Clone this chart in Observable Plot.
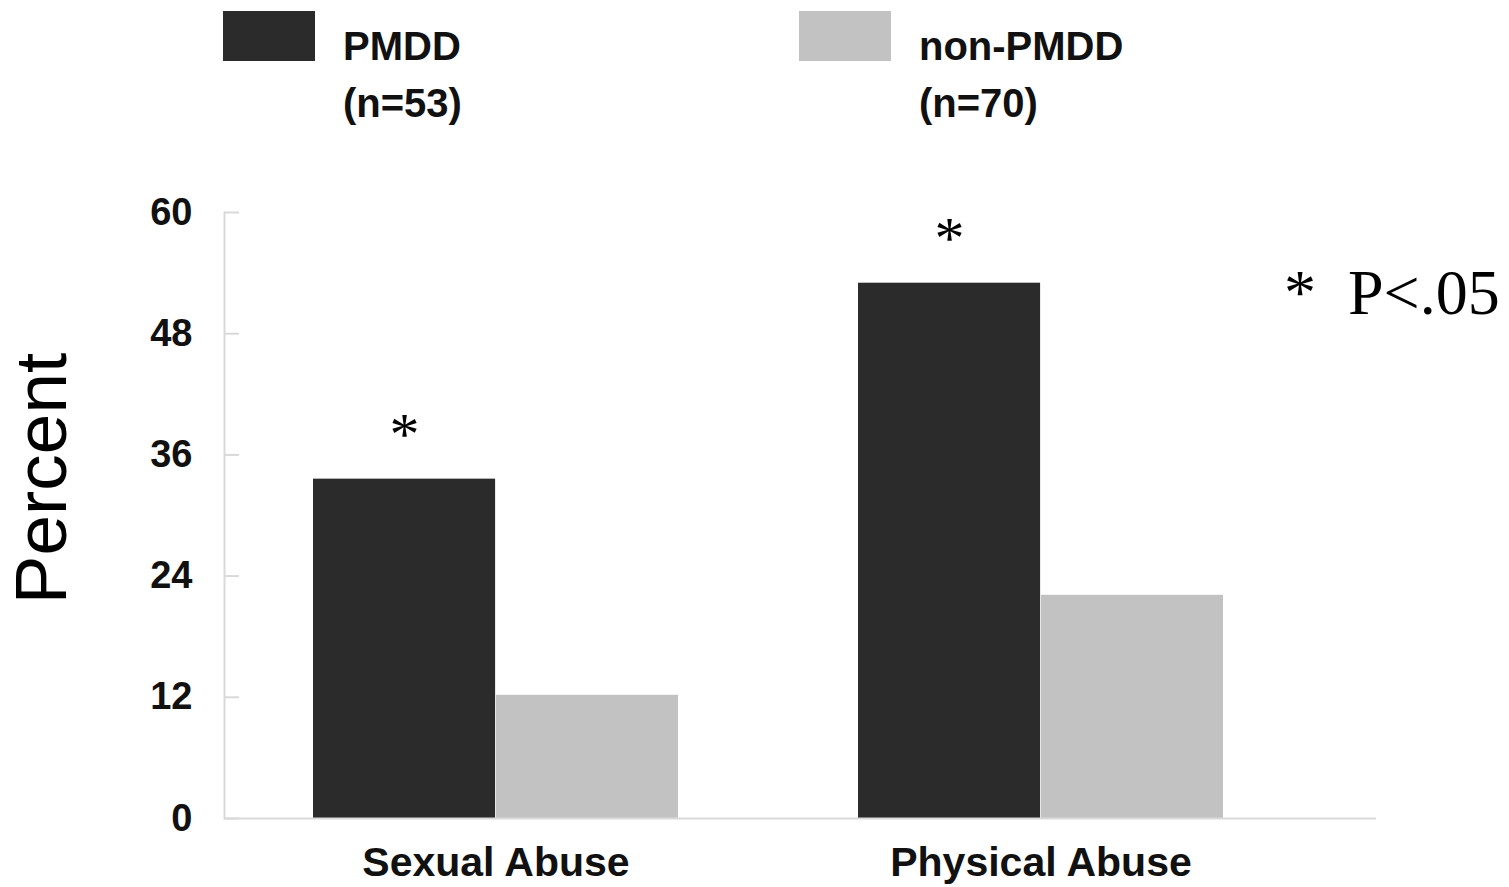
<!DOCTYPE html>
<html>
<head>
<meta charset="utf-8">
<script src="https://cdn.jsdelivr.net/npm/d3@7"></script>
<script src="https://cdn.jsdelivr.net/npm/@observablehq/plot@0.6"></script>
<style>
  html, body { margin: 0; padding: 0; background: #fff; }
  #wrap { position: relative; width: 1509px; height: 887px; overflow: hidden; font-family: "Liberation Sans", Arial, sans-serif; }
  #legend { position: relative; width: 1509px; height: 140px; }
  .sw { position: absolute; top: 11px; width: 92px; height: 50px; }
  .lt { position: absolute; font-size: 40px; font-weight: bold; line-height: 1; color: #111; white-space: nowrap; }
  #note { position: absolute; left: 1284px; top: 261px; font-family: "Liberation Serif", "Times New Roman", serif; font-size: 64px; line-height: 1; white-space: pre; color: #000; }
  svg { display: block; }
</style>
</head>
<body>
<div id="wrap">
  <div id="legend"></div>
  <div id="chart"></div>
  <div id="note"></div>
</div>
<script>
const categories = ["Sexual Abuse", "Physical Abuse"];
const groups = ["PMDD", "non-PMDD"];
const groupSizes = ["(n=53)", "(n=70)"];
const pmddValues = [33.6, 53.0];
const nonPmddValues = [12.2, 22.1];
const significance = ["*", "*"];
const yTicks = [0, 12, 24, 36, 48, 60];
const noteText = "*  P<.05";

const colors = ["#2b2b2b", "#c2c2c2"];
const axisColor = "#d9d9d9";

// legend
const legend = document.getElementById("legend");
const swLeft = [223, 799];
groups.forEach((g, i) => {
  const sw = document.createElement("div");
  sw.className = "sw";
  sw.style.left = swLeft[i] + "px";
  sw.style.background = colors[i];
  legend.appendChild(sw);
  const t1 = document.createElement("div");
  t1.className = "lt";
  t1.style.left = (swLeft[i] + 120) + "px";
  t1.style.top = "26px";
  t1.textContent = g;
  legend.appendChild(t1);
  const t2 = document.createElement("div");
  t2.className = "lt";
  t2.style.left = (swLeft[i] + 120) + "px";
  t2.style.top = "83px";
  t2.textContent = groupSizes[i];
  legend.appendChild(t2);
});
document.getElementById("note").textContent = noteText;

const rows = categories.map((c, i) => ({category: c, pmdd: pmddValues[i], non: nonPmddValues[i], sig: significance[i]}));

const W = 1509, H = 747;
const mL = 224, mR = 133, mT = 72, mB = 69;
const xOpts = {domain: categories, paddingInner: 0.33, paddingOuter: 0.22, align: 0.37};
const bw = Plot.scale({x: {type: "band", ...xOpts, range: [mL, W - mR]}}).bandwidth;

const chart = Plot.plot({
  width: W,
  height: H,
  marginLeft: mL,
  marginRight: mR,
  marginTop: mT,
  marginBottom: mB,
  style: {fontFamily: "Liberation Sans, Arial, sans-serif", background: "white", color: "#111"},
  x: {...xOpts, type: "band"},
  y: {domain: [0, 60]},
  marks: [
    Plot.barY(rows, {x: "category", y: "pmdd", fill: colors[0], insetRight: bw / 2}),
    Plot.barY(rows, {x: "category", y: "non", fill: colors[1], insetLeft: bw / 2}),
    Plot.text(rows, {x: "category", y: "pmdd", text: "sig", dx: -bw / 4, dy: -44, fontFamily: "Liberation Serif, Times New Roman, serif", fontSize: 60, fill: "#000"}),
    Plot.frame({anchor: "left", stroke: axisColor, strokeWidth: 2}),
    Plot.ruleY([0], {stroke: axisColor, strokeWidth: 2}),
    Plot.axisY({ticks: yTicks, tickSize: 15, dx: 15, tickFormat: () => "", label: null, stroke: axisColor, strokeWidth: 2}),
    Plot.axisY({ticks: yTicks, tickSize: 0, tickPadding: 32, fontSize: 38, fontWeight: "bold", label: null, fill: "#111"}),
    Plot.axisX({tickSize: 0, tickPadding: 28, fontSize: 41, fontWeight: "bold", label: null, fill: "#111"}),
    Plot.text(["Percent"], {frameAnchor: "left", rotate: -90, lineAnchor: "top", textAnchor: "middle", dx: -210, dy: -37, fontSize: 73, fill: "#000"})
  ]
});
document.getElementById("chart").appendChild(chart);
</script>
</body>
</html>
